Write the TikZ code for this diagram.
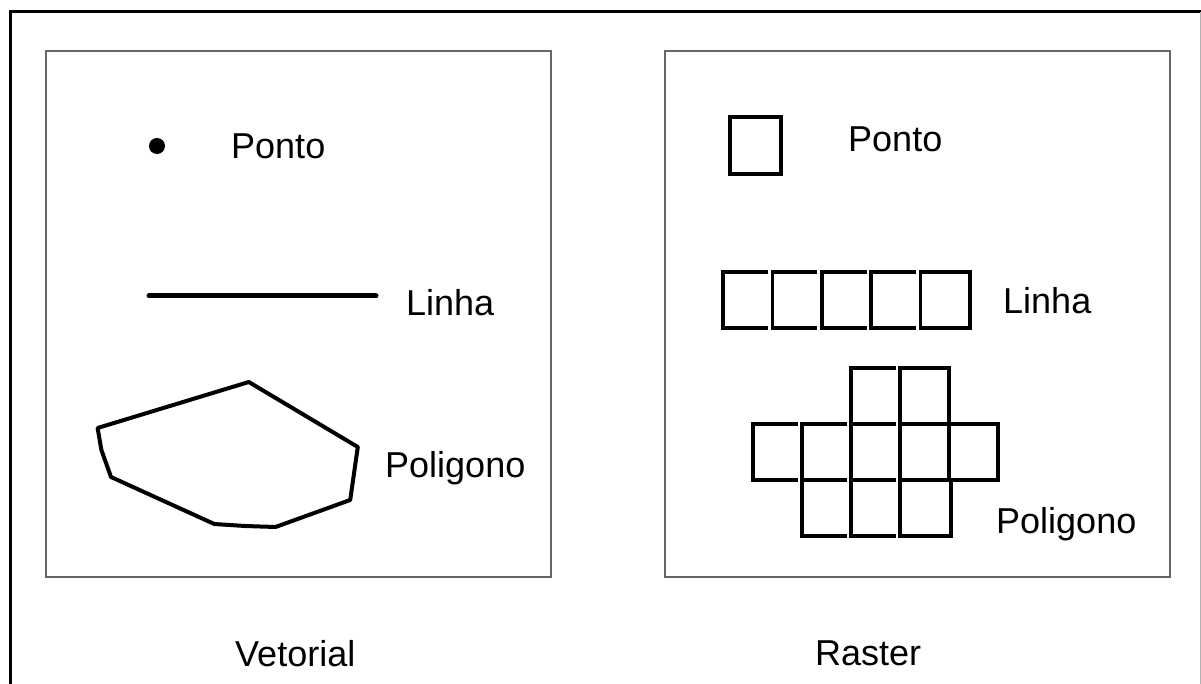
\documentclass[tikz,border=0pt]{standalone}
\usepackage{fontspec}
\setmainfont{Liberation Sans}
\usetikzlibrary{positioning}

\begin{document}
\begin{tikzpicture}[x=1pt,y=-1pt,
  rotulo/.style={anchor=base west,inner sep=0pt,font=\fontsize{36}{40}\selectfont},
  moldura/.style={line width=2pt,color=black!60},
  celula/.style={line width=3.5pt}]
\useasboundingbox (0,0) rectangle (1201,684);

% frame
\draw[line width=3pt] (10.5,684) -- (10.5,12) -- (1201,12);
\draw[line width=1pt,color=black!30] (1200,12) -- (1200,684);
\draw[moldura] (46,51) rectangle (551,577);
\draw[moldura] (665,51) rectangle (1170,577);

% vetorial
\coordinate (pt) at (157,146);
\coordinate (l0) at (149,296);
\coordinate (l1) at (376,296);
\coordinate (v0) at (97.6,428);
\coordinate (v1) at (248.8,382);
\coordinate (v2) at (357.8,447);
\coordinate (v3) at (350.2,500);
\coordinate (v4) at (275.5,527);
\coordinate (v5) at (245,526);
\coordinate (v6) at (214.3,524);
\coordinate (v7) at (111,477);
\coordinate (v8) at (101.4,450);

\fill (pt) circle (8pt);
\draw[line width=5pt,line cap=round] (l0)--(l1);
\draw[line width=4pt,line join=round] (v0)--(v1)--(v2)--(v3)--(v4)--(v5)--(v6)--(v7)--(v8)--cycle;

\node[rotulo] (pontoV) at (231,159) {Ponto};
\node[rotulo] (linhaV) at (406,316) {Linha};
\node[rotulo] (poligonoV) at (385,477) {Poligono};
\node[rotulo] (vetorial) at (235,666) {Vetorial};

% raster
\draw[celula] (730,117) rectangle (781,174);

\foreach \i in {0,1,2,3}
{
\draw[celula] ({723+49.4*\i+45},272) -- ({723+49.4*\i},272) -- ({723+49.4*\i},328) -- ({723+49.4*\i+45},328);
}
\draw[celula] (920.6,272) rectangle (970,328);

\foreach \c in {2}
{
\draw[celula] ({753+49*\c+45},368) -- ({753+49*\c},368) -- ({753+49*\c},424) -- ({753+49*\c+45},424);
}
\draw[celula] (900,368) rectangle (949,424);
\foreach \c in {0,1,2,3}
{
\draw[celula] ({753+49*\c+45},424) -- ({753+49*\c},424) -- ({753+49*\c},480) -- ({753+49*\c+45},480);
}
\draw[celula] (949,424) rectangle (998,480);
\foreach \c in {1,2}
{
\draw[celula] ({753+49*\c+45},480) -- ({753+49*\c},480) -- ({753+49*\c},536) -- ({753+49*\c+45},536);
}
\draw[celula] (900,480) rectangle (951,536);

\node[rotulo] (pontoR) at (848,152) {Ponto};
\node[rotulo] (linhaR) at (1003,313) {Linha};
\node[rotulo] (poligonoR) at (996,533) {Poligono};
\node[rotulo] (raster) at (815,665) {Raster};
\end{tikzpicture}
\end{document}
